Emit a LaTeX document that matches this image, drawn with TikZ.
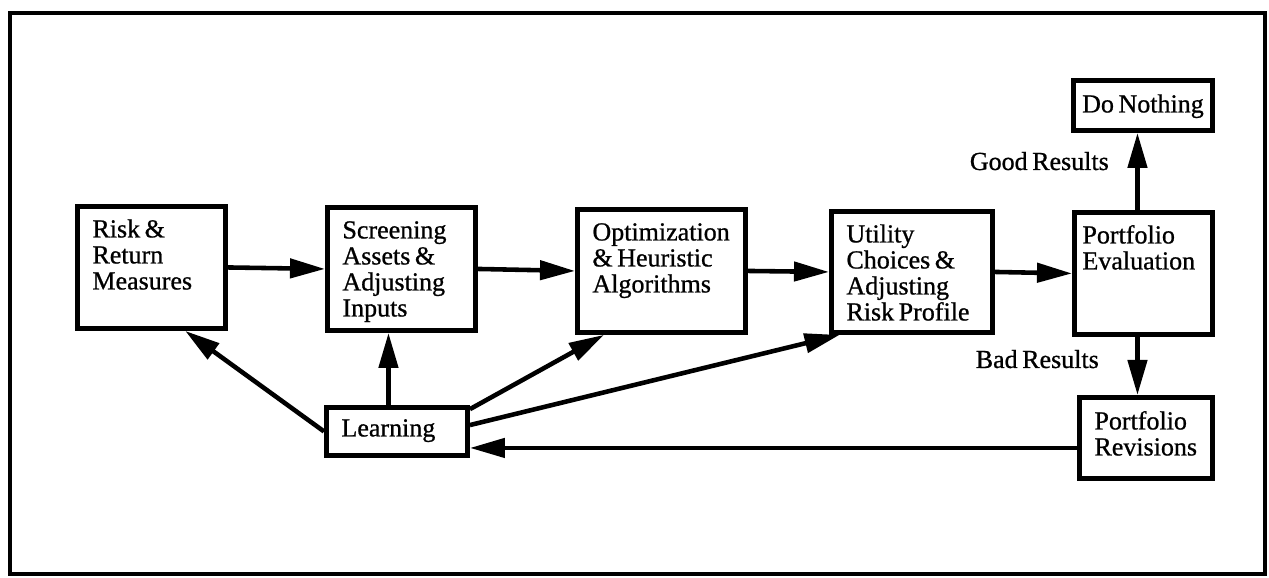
\documentclass[tikz,border=0pt]{standalone}
\usepackage{fontspec}
\setmainfont{Liberation Serif}[WordSpace=0.7, FakeBold=0.8]
\usepackage{tikz}
\usetikzlibrary{arrows.meta}
\usetikzlibrary{positioning}
\tikzset{>=Triangle}
\tikzset{
  stage/.style 2 args={draw, line width=2.8pt, anchor=north west, align=flush left,
    inner xsep=0.3cm, inner ysep=0pt, text height=0.62cm,
    text width=#1, text depth=#2},
  arrow/.style={line width=2.6pt, -{Triangle[length=0.7cm, width=0.38cm]}},
}

\begin{document}
\begin{tikzpicture}[font=\fontsize{14.8}{14.8}\selectfont]
      \useasboundingbox (0,0) rectangle (25.38,11.56);
      \draw[line width=2.8pt] (0.20,0.08) rectangle (25.30,11.30);
      % main chain
      \node[stage={2.36cm}{1.82cm}] (risk) at (1.50,7.48) {Risk \&\\Return\\Measures};
      \node[stage={2.36cm}{1.84cm}] (screen) at (6.50,7.46) {Screening\\Assets \&\\Adjusting\\Inputs};
      \node[stage={2.76cm}{1.84cm}] (optim) at (11.50,7.42) {Optimization\\\& Heuristic\\Algorithms};
      \node[stage={2.62cm}{1.80cm}] (util) at (16.58,7.38) {Utility\\Choices \&\\Adjusting\\Risk Profile};
      \node[stage={2.44cm}{1.82cm}, inner xsep=0.16cm] (eval) at (21.44,7.36) {Portfolio\\Evaluation};
      \node[stage={2.58cm}{0.36cm}, inner xsep=0.1cm, align=flush center, text height=0.64cm] (nothing) at (21.42,10.00) {Do Nothing};
      \node[stage={2.06cm}{0.98cm}, text height=0.64cm] (revis) at (21.54,3.66) {Portfolio\\Revisions};
      \node[stage={2.22cm}{0.38cm}, text height=0.58cm] (learn) at (6.48,3.46) {Learning};
      \node[anchor=base east] (good) at (22.30,8.16) {Good Results};
      \node[anchor=base east] (bad) at (22.10,4.20) {Bad Results};
      \draw[arrow] (risk.east) -- (screen.west);
      \draw[arrow] (screen.east) -- (optim.west);
      \draw[arrow] (optim.east) -- (util.west);
      \draw[arrow] (util.east) -- (eval.west);
      \draw[arrow] ([xshift=-0.12cm]eval.north) -- ([xshift=-0.12cm]eval.north |- nothing.south);
      \draw[arrow] ([xshift=-0.12cm]eval.south) -- ([xshift=-0.12cm]eval.south |- revis.north);
      % feedback
      \draw[arrow] ([yshift=-0.2cm]revis.west) -- ([yshift=-0.2cm]revis.west -| learn.east);
      \draw[arrow] (learn.west) -- (risk.-62);
      \draw[arrow] ([xshift=-0.17cm]learn.north) -- ([xshift=-0.17cm]learn.north |- screen.south);
      \draw[arrow] (learn.17) -- (optim.228);
      \draw[arrow] (learn.5) -- (util.221);
\end{tikzpicture}
\end{document}
